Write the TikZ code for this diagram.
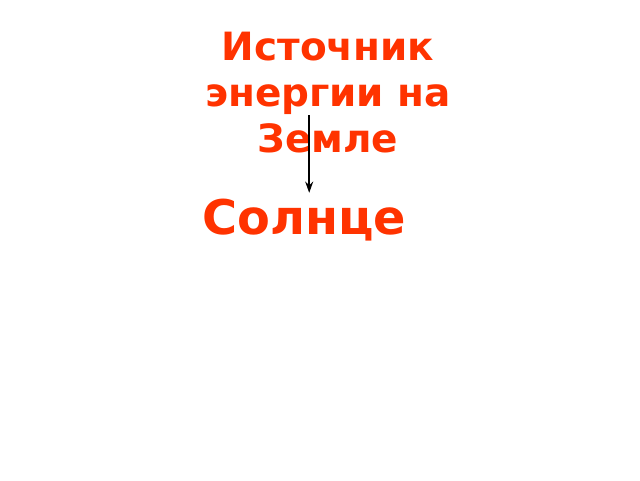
\documentclass[tikz,border=0pt]{standalone}
\usepackage{fontspec}
\setmainfont{DejaVu Sans}
\usetikzlibrary{arrows.meta}
\definecolor{redorange}{RGB}{255,51,0}
\begin{document}
\begin{tikzpicture}
 [
 titlebox/.style={rectangle, text=redorange, font=\bfseries\fontsize{27.7}{32.8}\selectfont, align=center, inner sep=0pt, anchor=north},
 sunbox/.style={rectangle, text=redorange, font=\bfseries\fontsize{34}{40}\selectfont, inner sep=0pt, anchor=north},
 arrowline/.style={draw=black, line width=1.1pt, -{Stealth[length=2.8mm,width=2mm]}}
 ]
 \useasboundingbox (0,0) rectangle (16,-12);
 \node at (8.2,-0.8) [titlebox] (title) {Источник\\энергии на\\Земле};
 \node at (7.6,-4.98) [sunbox] (sun) {Солнце};
 \coordinate (arrtop) at (7.73,-2.88);
 \coordinate (arrbot) at (7.73,-4.82);
 \draw [arrowline] (arrtop) -- (arrbot);
 \end{tikzpicture}
\end{document}
